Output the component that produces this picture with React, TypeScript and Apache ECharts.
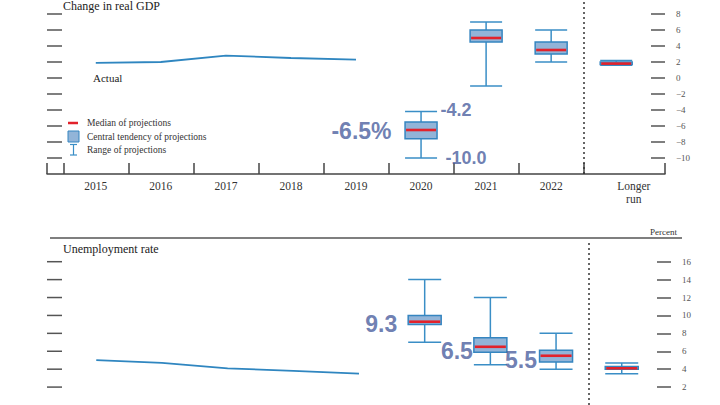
import React, { useEffect, useRef } from 'react';
import * as echarts from 'echarts';

// ---- data ----
const categories = ['2015', '2016', '2017', '2018', '2019', '2020', '2021', '2022', 'Longer\nrun'];
const actualIdx = [0, 1, 2, 3, 4];
const projIdx = [5, 6, 7, 8];

const gdpActual = [1.9, 2.0, 2.8, 2.5, 2.3];
const gdpLow = [-10.0, -1.0, 2.0, 1.6];
const gdpCtLow = [-7.6, 4.5, 3.0, 1.7];
const gdpMedian = [-6.5, 5.0, 3.5, 1.8];
const gdpCtHigh = [-5.5, 6.0, 4.5, 2.0];
const gdpHigh = [-4.2, 7.0, 6.0, 2.2];

const unActual = [5.0, 4.7, 4.1, 3.8, 3.5];
const unLow = [7.0, 4.5, 4.0, 3.5];
const unCtLow = [9.0, 5.9, 4.8, 4.0];
const unMedian = [9.3, 6.5, 5.5, 4.1];
const unCtHigh = [10.0, 7.5, 6.1, 4.3];
const unHigh = [14.0, 12.0, 8.0, 4.7];

const gdpTicks = [-10, -8, -6, -4, -2, 0, 2, 4, 6, 8];
const unTicks = [2, 4, 6, 8, 10, 12, 14, 16];

// ---- styles ----
const SERIF = 'Liberation Serif, Times New Roman, serif';
const SANS = 'Liberation Sans, Arial, sans-serif';
const BOX_FILL = '#92b4d8';
const BOX_STROKE = '#3585c0';
const WHISKER = '#3a8ec6';
const MEDIAN = '#e2222b';
const LINE = '#2f86c0';
const ANNOT = '#4a5e9e';
const AXIS = '#444';
const TICK = '#555';

// layout: category i is centred at i + X0 on a 0..9.5 axis
const X0 = 0.75;
const XMAX = 9.5;
const px = (i: number) => i + X0;
const xTickVals = [0, 0.25, 1.25, 2.25, 3.25, 4.25, 5.25, 6.25, 7.25, 8.25, XMAX];
const xLabelVals = [0, 1, 2, 3, 4, 5, 6, 7, 8.27].map(px);
const DIVIDER = px(7.5);

const fmtMinus = (v: number) => String(v).replace('-', '\u2212');

function boxData(low: number[], ctl: number[], med: number[], cth: number[], high: number[]) {
  return projIdx.map((i, k) => [px(i), low[k], ctl[k], med[k], cth[k], high[k]]);
}

function makeRender(hw: number) {
  return (params: any, api: any) => {
    const x = api.value(0);
    const lo = api.coord([x, api.value(1)]);
    const q1 = api.coord([x, api.value(2)]);
    const md = api.coord([x, api.value(3)]);
    const q3 = api.coord([x, api.value(4)]);
    const hi = api.coord([x, api.value(5)]);
    const cx = lo[0];
    const ws = { stroke: WHISKER, lineWidth: 1.5 };
    return {
      type: 'group',
      children: [
        { type: 'line', shape: { x1: cx, y1: hi[1], x2: cx, y2: lo[1] }, style: ws },
        { type: 'line', shape: { x1: cx - hw, y1: hi[1], x2: cx + hw, y2: hi[1] }, style: ws },
        { type: 'line', shape: { x1: cx - hw, y1: lo[1], x2: cx + hw, y2: lo[1] }, style: ws },
        {
          type: 'rect',
          shape: { x: cx - hw, y: q3[1], width: hw * 2, height: q1[1] - q3[1] },
          style: { fill: BOX_FILL, stroke: BOX_STROKE, lineWidth: 1.5 },
        },
        { type: 'line', shape: { x1: cx - hw + 1, y1: md[1], x2: cx + hw - 1, y2: md[1] }, style: { stroke: MEDIAN, lineWidth: 2.6 } },
      ],
    };
  };
}

// left-edge tick dashes, placed through the y scale
function leftTickRender(params: any, api: any) {
  const y = api.coord([0, api.value(0)])[1];
  const x0 = params.coordSys.x;
  return {
    type: 'line',
    shape: { x1: x0, y1: y, x2: x0 + 15, y2: y },
    style: { stroke: TICK, lineWidth: 1.5 },
  };
}

function annot(i: number, y: number, text: string, pos: string, dist: number, dy: number, size: number) {
  return {
    value: [px(i), y],
    label: {
      show: true,
      position: pos,
      distance: dist,
      offset: [0, dy],
      formatter: text,
      fontSize: size,
      fontWeight: 'bold',
      fontFamily: SANS,
      color: ANNOT,
    },
  };
}

function dashedMark() {
  return {
    silent: true,
    symbol: 'none',
    label: { show: false },
    lineStyle: { color: '#333', width: 1.5, type: [2, 3] },
    data: [{ xAxis: DIVIDER }],
  };
}

function yRight(grid: number, min: number, max: number, ticks: number[]) {
  return {
    type: 'value', gridIndex: grid, position: 'right', min, max,
    splitLine: { show: false },
    axisLine: { show: false, onZero: false },
    axisTick: { show: true, inside: true, length: 14, customValues: ticks, lineStyle: { color: TICK, width: 1.5 } },
    axisLabel: { show: true, customValues: ticks, formatter: fmtMinus, margin: 11, fontFamily: SERIF, fontSize: 9, color: '#555' },
  };
}

const option: any = {
  animation: false,
  backgroundColor: '#fff',
  grid: [
    { left: 47, top: 0, width: 618, height: 174 },
    { left: 47, top: 242, width: 624, height: 175.6 },
  ],
  xAxis: [
    {
      type: 'value',
      gridIndex: 0,
      min: 0,
      max: XMAX,
      splitLine: { show: false },
      axisLine: { show: true, onZero: false, lineStyle: { color: AXIS, width: 1.5 } },
      axisTick: { show: true, inside: true, length: 11, customValues: xTickVals, lineStyle: { color: AXIS, width: 1.5 } },
      axisLabel: {
        show: true,
        customValues: xLabelVals,
        formatter: (v: number) => categories[Math.min(Math.round(v - X0), categories.length - 1)],
        fontFamily: SERIF,
        fontSize: 11.5,
        color: '#333',
        margin: 5,
        lineHeight: 13,
      },
    },
    {
      type: 'value',
      gridIndex: 1,
      min: 0,
      max: XMAX,
      splitLine: { show: false },
      axisLine: { show: false, onZero: false },
      axisTick: { show: false },
      axisLabel: { show: false },
    },
  ],
  yAxis: [
    yRight(0, -12, 9.75, gdpTicks),
    yRight(1, 0, 18.2, unTicks),
  ],
  series: [
    {
      type: 'line', xAxisIndex: 0, yAxisIndex: 0,
      data: actualIdx.map((i, k) => [px(i), gdpActual[k]]),
      showSymbol: false, symbol: 'none',
      lineStyle: { color: LINE, width: 1.8 },
      markLine: dashedMark(),
    },
    {
      type: 'custom', xAxisIndex: 0, yAxisIndex: 0, z: 60,
      renderItem: leftTickRender, encode: { y: 0 }, data: gdpTicks.map((v) => [v]), silent: true,
    },
    {
      type: 'custom', xAxisIndex: 0, yAxisIndex: 0,
      renderItem: makeRender(16),
      encode: { x: 0, y: [1, 2, 3, 4, 5] },
      data: boxData(gdpLow, gdpCtLow, gdpMedian, gdpCtHigh, gdpHigh),
      z: 3,
    },
    {
      type: 'line', xAxisIndex: 1, yAxisIndex: 1,
      data: actualIdx.map((i, k) => [px(i), unActual[k]]),
      showSymbol: false, symbol: 'none',
      lineStyle: { color: LINE, width: 1.8 },
      markLine: dashedMark(),
    },
    {
      type: 'custom', xAxisIndex: 1, yAxisIndex: 1, z: 60,
      renderItem: leftTickRender, encode: { y: 0 }, data: unTicks.map((v) => [v]), silent: true,
    },
    {
      type: 'custom', xAxisIndex: 1, yAxisIndex: 1,
      renderItem: makeRender(16.5),
      encode: { x: 0, y: [1, 2, 3, 4, 5] },
      data: boxData(unLow, unCtLow, unMedian, unCtHigh, unHigh),
      z: 3,
    },
    {
      type: 'scatter', xAxisIndex: 0, yAxisIndex: 0,
      symbolSize: 1, itemStyle: { color: 'rgba(0,0,0,0)' }, silent: true, z: 5,
      data: [
        annot(projIdx[0], gdpMedian[0], gdpMedian[0].toFixed(1) + '%', 'left', 29, 1, 23),
        annot(projIdx[0], gdpHigh[0], gdpHigh[0].toFixed(1), 'right', 19, -1.5, 18),
        annot(projIdx[0], gdpLow[0], gdpLow[0].toFixed(1), 'right', 24, 0, 18),
      ],
    },
    {
      type: 'scatter', xAxisIndex: 1, yAxisIndex: 1,
      symbolSize: 1, itemStyle: { color: 'rgba(0,0,0,0)' }, silent: true, z: 5,
      data: [
        annot(projIdx[0], unMedian[0], unMedian[0].toFixed(1), 'left', 27, 2.5, 23),
        annot(projIdx[1], unMedian[1], unMedian[1].toFixed(1), 'left', 17, 4, 23),
        annot(projIdx[2], unMedian[2], unMedian[2].toFixed(1), 'left', 18.5, 4, 23),
      ],
    },
  ],
  graphic: [
    // mask over a stray vertical rule at the grids' left edges
    { type: 'rect', z: 50, shape: { x: 45, y: 0, width: 4, height: 162 }, style: { fill: '#fff' } },
    { type: 'rect', z: 50, shape: { x: 45, y: 241, width: 4, height: 170 }, style: { fill: '#fff' } },
    { type: 'text', x: 63, y: 0, style: { text: 'Change in real GDP', font: `12px ${SERIF}`, fill: '#222', verticalAlign: 'top' } },
    { type: 'text', x: 93, y: 78, style: { text: 'Actual', font: `11px ${SERIF}`, fill: '#222', verticalAlign: 'middle' } },
    { type: 'line', shape: { x1: 68, y1: 123, x2: 78, y2: 123 }, style: { stroke: MEDIAN, lineWidth: 2.5 } },
    { type: 'rect', shape: { x: 68, y: 131, width: 11, height: 11 }, style: { fill: BOX_FILL, stroke: BOX_STROKE, lineWidth: 1 } },
    { type: 'line', shape: { x1: 73.5, y1: 144.5, x2: 73.5, y2: 155 }, style: { stroke: WHISKER, lineWidth: 1.2 } },
    { type: 'line', shape: { x1: 70, y1: 144.5, x2: 77, y2: 144.5 }, style: { stroke: WHISKER, lineWidth: 1.2 } },
    { type: 'line', shape: { x1: 70, y1: 155, x2: 77, y2: 155 }, style: { stroke: WHISKER, lineWidth: 1.2 } },
    { type: 'text', x: 87, y: 123, style: { text: 'Median of projections', font: `9.5px ${SERIF}`, fill: '#333', verticalAlign: 'middle' } },
    { type: 'text', x: 87, y: 137, style: { text: 'Central tendency of projections', font: `9.5px ${SERIF}`, fill: '#333', verticalAlign: 'middle' } },
    { type: 'text', x: 87, y: 150, style: { text: 'Range of projections', font: `9.5px ${SERIF}`, fill: '#333', verticalAlign: 'middle' } },
    { type: 'line', shape: { x1: 50, y1: 238, x2: 682, y2: 238 }, style: { stroke: '#555', lineWidth: 1.5 } },
    { type: 'text', x: 650, y: 232, style: { text: 'Percent', font: `9px ${SERIF}`, fill: '#333', verticalAlign: 'middle' } },
    { type: 'text', x: 63, y: 249, style: { text: 'Unemployment rate', font: `12px ${SERIF}`, fill: '#222', verticalAlign: 'middle' } },
  ],
};

export default function App() {
  const ref = useRef<HTMLDivElement>(null);
  useEffect(() => {
    const chart = echarts.init(ref.current!, null, { renderer: 'svg' });
    chart.setOption(option);
    return () => chart.dispose();
  }, []);
  return (
    <div
      ref={ref}
      style={{ position: 'fixed', left: 0, top: 0, width: 720, height: 405, background: '#fff' }}
    />
  );
}
